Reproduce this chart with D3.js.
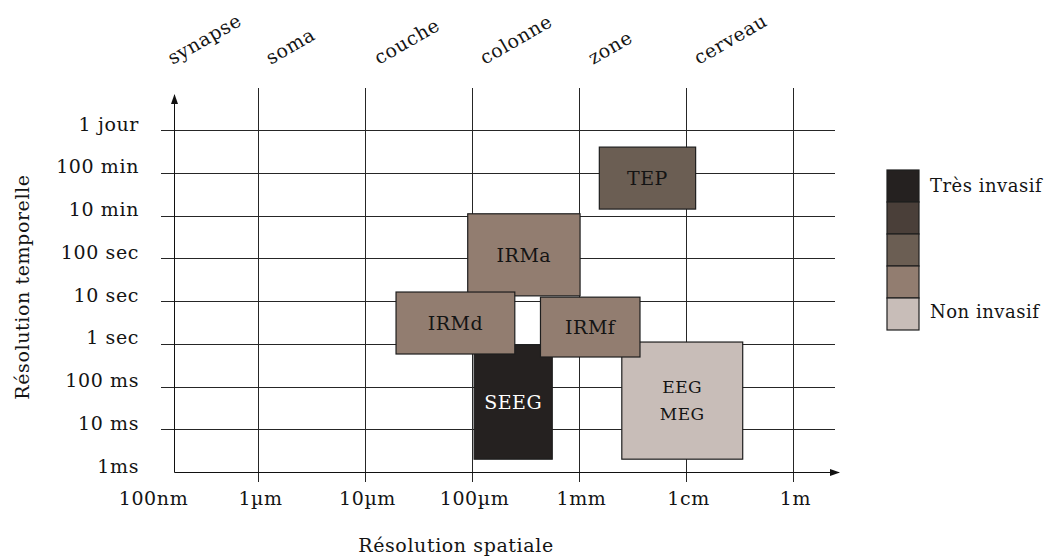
<!DOCTYPE html>
<html><head><meta charset="utf-8">
<script src="https://cdn.jsdelivr.net/npm/d3@7"></script>
<style>
body{margin:0;background:#fff}
svg{display:block}
text{font-family:"DejaVu Serif",serif;fill:#141414}
</style>
</head><body>
<svg id="c" width="1056" height="557"></svg>
<script>
// ---- data ----
const xTicks = ["100nm", "1\u00b5m", "10\u00b5m", "100\u00b5m", "1mm", "1cm", "1m"];
const yTicks = ["1ms", "10 ms", "100 ms", "1 sec", "10 sec", "100 sec", "10 min", "100 min", "1 jour"];
const scaleCategories = ["synapse", "soma", "couche", "colonne", "zone", "cerveau"];
const scaleCategoryPos = [0.2, 1.12, 2.13, 3.12, 4.13, 5.12]; // in x-tick index units
const techniques = ["SEEG", "EEG|MEG", "TEP", "IRMa", "IRMd", "IRMf"];
const xStart = [3.02, 4.40, 4.19, 2.96, 2.29, 3.64];
const xEnd   = [3.75, 5.53, 5.09, 4.01, 3.40, 4.57];
const yStart = [0.30, 0.30, 6.15, 4.12, 2.76, 2.69];
const yEnd   = [2.97, 3.04, 7.60, 6.04, 4.21, 4.09];
const invasiveness = [4, 0, 2, 1, 1, 1]; // 0 = non invasif ... 4 = très invasif
const legendLabels = ["Très invasif", "Non invasif"];
const levelColors = ["#c8bdb8", "#927d70", "#6b5e53", "#4a3f39", "#252120"];

// ---- layout ----
const svg = d3.select("#c");
const x = d3.scaleLinear().domain([0, 6]).range([151, 793]);
const y = d3.scaleLinear().domain([0, 8]).range([472, 130]);
const axisX0 = 174, gridLeft = 161, gridRight = 835, gridTop = 88, tickBottom = 482;
const px = v => Math.round(v) + 0.5;

const defs = svg.append("defs");
defs.append("marker").attr("id", "arr").attr("viewBox", "0 -4 10 8")
  .attr("refX", 9).attr("refY", 0).attr("markerWidth", 10).attr("markerHeight", 8)
  .attr("markerUnits", "userSpaceOnUse").attr("orient", "auto")
  .append("path").attr("d", "M0,-3.5L10,0L0,3.5Z").attr("fill", "#111");

// horizontal grid lines
svg.append("g").selectAll("line").data(d3.range(1, yTicks.length)).join("line")
  .attr("x1", gridLeft).attr("x2", gridRight)
  .attr("y1", d => px(y(d))).attr("y2", d => px(y(d)))
  .attr("stroke", "#262626").attr("stroke-width", 1);

// vertical grid lines
svg.append("g").selectAll("line").data(d3.range(1, xTicks.length)).join("line")
  .attr("x1", d => px(x(d))).attr("x2", d => px(x(d)))
  .attr("y1", gridTop).attr("y2", tickBottom)
  .attr("stroke", "#262626").attr("stroke-width", 1);

// axes lines with arrows
svg.append("line").attr("x1", px(axisX0)).attr("x2", px(axisX0))
  .attr("y1", px(y(0))).attr("y2", 95)
  .attr("stroke", "#111").attr("stroke-width", 1).attr("marker-end", "url(#arr)");
svg.append("line").attr("x1", px(axisX0)).attr("x2", 839)
  .attr("y1", px(y(0))).attr("y2", px(y(0)))
  .attr("stroke", "#111").attr("stroke-width", 1).attr("marker-end", "url(#arr)");

// boxes
const order = d3.range(techniques.length);
svg.append("g").selectAll("rect").data(order).join("rect")
  .attr("x", i => x(xStart[i])).attr("y", i => y(yEnd[i]))
  .attr("width", i => x(xEnd[i]) - x(xStart[i]))
  .attr("height", i => y(yStart[i]) - y(yEnd[i]))
  .attr("fill", i => levelColors[invasiveness[i]])
  .attr("stroke", "#1e1e1e").attr("stroke-width", 1.2);

const bl = svg.append("g").selectAll("text").data(order).join("text")
  .attr("text-anchor", "middle")
  .attr("x", i => (x(xStart[i]) + x(xEnd[i])) / 2)
  .attr("y", i => (y(yStart[i]) + y(yEnd[i])) / 2)
  .attr("font-size", i => techniques[i].includes("|") ? 17 : 19)
  .attr("letter-spacing", 0.5)
  .style("fill", i => invasiveness[i] >= 4 ? "#ffffff" : "#141414");
bl.each(function(i) {
  const lines = techniques[i].split("|");
  const t = d3.select(this);
  const cx = (x(xStart[i]) + x(xEnd[i])) / 2;
  lines.forEach((s, k) => {
    t.append("tspan").attr("x", cx)
      .attr("dy", k === 0 ? (lines.length === 1 ? "0.36em" : (-(lines.length - 1) * 0.8 + 0.36) + "em") : "1.6em")
      .text(s);
  });
});

// x tick labels
const gx = svg.append("g").attr("transform", `translate(0,${y(0)})`)
  .call(d3.axisBottom(x).tickValues(d3.range(xTicks.length)).tickFormat(i => xTicks[i]).tickSize(0));
gx.select(".domain").remove();
gx.attr("font-family", null).attr("font-size", 19);
gx.selectAll("text").attr("y", 33).attr("dy", 0).attr("dx", 2).attr("letter-spacing", 0.6);

// y tick labels
const gy = svg.append("g").attr("transform", `translate(${axisX0},0)`)
  .call(d3.axisLeft(y).tickValues(d3.range(yTicks.length)).tickFormat(i => yTicks[i]).tickSize(0).tickPadding(35));
gy.select(".domain").remove();
gy.attr("font-family", null).attr("font-size", 19);
gy.selectAll("text").attr("dy", 0).attr("letter-spacing", 0.6);

// top category labels
svg.append("g").selectAll("text").data(scaleCategories).join("text")
  .attr("transform", (d, i) => `translate(${x(scaleCategoryPos[i])},65) rotate(-30)`)
  .attr("font-size", 19).attr("letter-spacing", 0.6)
  .text(d => d);

// axis titles
svg.append("text").attr("x", 456).attr("y", 552).attr("text-anchor", "middle")
  .attr("font-size", 19).attr("letter-spacing", 0.6).text("Résolution spatiale");
svg.append("text").attr("transform", "translate(29,287) rotate(-90)").attr("text-anchor", "middle")
  .attr("font-size", 19).attr("letter-spacing", 0.6).text("Résolution temporelle");

// legend
const lg = svg.append("g").attr("transform", "translate(887,170)");
const legendOrder = d3.range(levelColors.length).reverse();
lg.selectAll("rect").data(legendOrder).join("rect")
  .attr("x", 0).attr("y", (d, k) => k * 32).attr("width", 32).attr("height", 32)
  .attr("fill", d => levelColors[d]).attr("stroke", "#1e1e1e").attr("stroke-width", 1.2);
lg.selectAll("text").data(legendLabels).join("text")
  .attr("x", 43).attr("y", (d, k) => k === 0 ? 22 : 148)
  .attr("font-size", 18).attr("letter-spacing", 0.5).text(d => d);
</script>
</body></html>
